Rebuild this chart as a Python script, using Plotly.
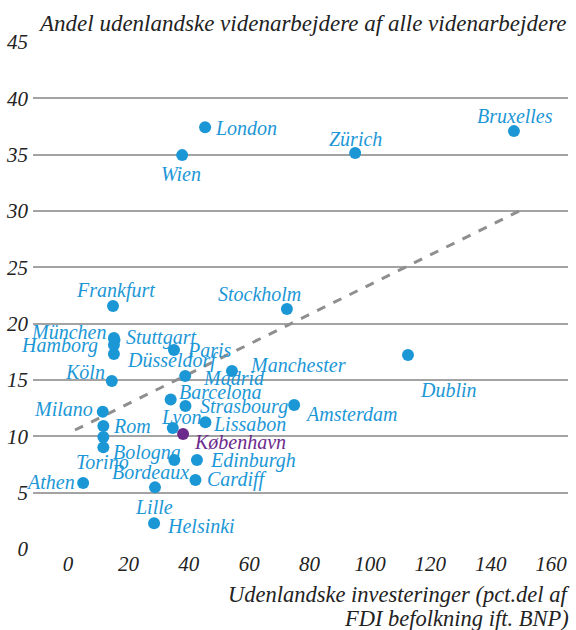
import plotly.graph_objects as go

# ---- data ----
cities = ["Bruxelles", "Zürich", "London", "Wien", "Frankfurt", "Stockholm",
          "München", "Stuttgart", "Hamborg", "Düsseldorf", "Paris", "Köln",
          "Madrid", "Manchester", "Dublin", "Barcelona", "Strasbourg",
          "Amsterdam", "Milano", "Rom", "Lyon", "Lissabon", "København",
          "Bologna", "Torino", "Bordeaux", "Edinburgh", "Cardiff", "Lille",
          "Athen", "Helsinki"]
fdi = [147.7, 95.1, 45.4, 37.8, 14.9, 72.5,
       15.2, 15.4, 15.2, 15.2, 35.1, 14.5,
       38.8, 54.3, 112.6, 34.0, 38.9,
       74.9, 11.5, 11.7, 34.7, 45.5, 38.1,
       11.7, 11.7, 35.2, 42.7, 42.2, 28.8,
       5.0, 28.5]
share = [37.09, 35.14, 37.44, 34.96, 21.56, 21.30,
         18.72, 18.54, 18.10, 17.30, 17.66, 14.91,
         15.35, 15.79, 17.21, 13.27, 12.69,
         12.78, 12.18, 10.91, 10.74, 11.24, 10.20,
         9.94, 9.02, 7.90, 7.90, 6.12, 5.47,
         5.86, 2.28]
trend_x = [2.3, 149.5]
trend_y = [10.56, 30.0]
x_ticks = [0, 20, 40, 60, 80, 100, 120, 140, 160]
y_ticks = [0, 5, 10, 15, 20, 25, 30, 35, 40, 45]
highlight = "København"
title_text = "Andel udenlandske videnarbejdere af alle videnarbejdere"
xtitle_lines = ["Udenlandske investeringer (pct.del af", "FDI befolkning ift. BNP)"]

# ---- label placement style: (xanchor, dx, dy) in pixels ----
label_style = {
    "Bruxelles": ("center", 1, -15), "Zürich": ("center", 0, -14),
    "London": ("left", 8, 1), "Wien": ("center", -1, 19),
    "Frankfurt": ("center", 2, -16), "Stockholm": ("center", -27, -15),
    "München": ("right", -6, -6), "Stuttgart": ("left", 9, -3),
    "Hamborg": ("right", -14, 0), "Düsseldorf": ("left", 11, 6),
    "Paris": ("left", 11, 0), "Köln": ("right", -5, -9),
    "Madrid": ("left", 16, 2), "Manchester": ("left", 16, -6),
    "Dublin": ("left", 10, 35), "Barcelona": ("left", 6, -7),
    "Strasbourg": ("left", 13, 0), "Amsterdam": ("left", 9, 9),
    "Milano": ("right", -8, -3), "Rom": ("left", 8, 0),
    "Lyon": ("center", 8, -11), "Lissabon": ("left", 6, 2),
    "København": ("left", 9, 8), "Bologna": ("left", 8, 15),
    "Torino": ("center", -1, 15), "Bordeaux": ("right", 17, 12),
    "Edinburgh": ("left", 11, 1), "Cardiff": ("left", 10, -1),
    "Lille": ("center", -1, 20), "Athen": ("right", -6, -1),
    "Helsinki": ("left", 11, 3),
}

BLUE = "#1c97d6"
PURPLE = "#6b2a8c"
FONT = "Liberation Serif"
colors = [PURPLE if c == highlight else BLUE for c in cities]

fig = go.Figure()
fig.add_trace(go.Scatter(
    x=trend_x, y=trend_y, mode="lines",
    line=dict(color="#8f8f8f", width=3, dash="dash"),
    hoverinfo="skip", showlegend=False))
fig.add_trace(go.Scatter(
    x=fdi, y=share, mode="markers", text=cities,
    marker=dict(size=12, color=colors, line=dict(width=0)),
    showlegend=False, cliponaxis=False))

for c, xv, yv, col in zip(cities, fdi, share, colors):
    anc, dx, dy = label_style[c]
    fig.add_annotation(
        x=xv, y=yv, text=c, showarrow=False, xanchor=anc, yanchor="middle",
        xshift=dx, yshift=-dy,
        font=dict(family=FONT, size=20, color=col, style="italic"))

fig.add_annotation(
    xref="paper", yref="paper", x=1, y=1, xanchor="right", yanchor="bottom",
    yshift=4, showarrow=False, text=title_text,
    font=dict(family=FONT, size=23, color="#222222", style="italic"))
for i, line in enumerate(xtitle_lines):
    fig.add_annotation(
        xref="paper", yref="paper", x=1, y=0, xanchor="right", yanchor="middle",
        xshift=3, yshift=-45 - 24 * i, showarrow=False, text=line,
        font=dict(family=FONT, size=22.5, color="#222222", style="italic"))

fig.update_layout(
    width=576, height=630,
    margin=dict(l=33, r=8, t=42, b=81, autoexpand=False),
    paper_bgcolor="white", plot_bgcolor="white",
    font=dict(family=FONT, size=21, color="#222222", style="italic"),
    xaxis=dict(range=[-11.6, 165.6], tickvals=x_ticks,
               ticktext=[str(v) for v in x_ticks], showgrid=False,
               zeroline=False, showline=False, ticks="", automargin=False),
    yaxis=dict(range=[0, 45], tickvals=y_ticks,
               ticktext=[str(v) for v in y_ticks], showgrid=True,
               gridcolor="#a3a3a3", gridwidth=1.5, zeroline=False,
               showline=False, ticks="", automargin=False,
               ticklabelstandoff=4),
)

fig.write_html("out.html", config={"displayModeBar": False},
               post_script="document.body.style.margin='0px';")
